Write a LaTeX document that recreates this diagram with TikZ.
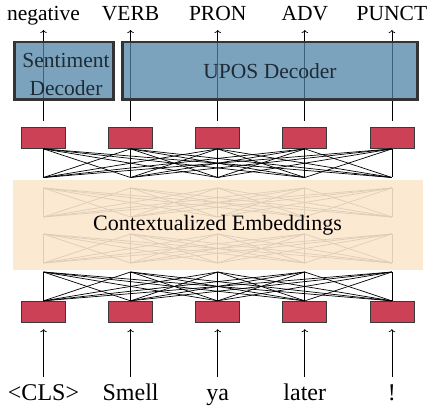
\documentclass[tikz,border=0pt]{standalone}
\usepackage{fontspec}
\setmainfont{Liberation Serif}
\usetikzlibrary{arrows.meta}
\definecolor{redfill}{HTML}{CD4157}
\definecolor{boxline}{HTML}{3A3A3A}
\definecolor{decfill}{HTML}{4F84A8}
\definecolor{decborder}{HTML}{333333}
\definecolor{dectext}{HTML}{1E2B35}
\definecolor{embfill}{HTML}{FAE6CD}
\begin{document}
\begin{tikzpicture}[x=1pt,y=-1pt,
  redbox/.style={draw=boxline, line width=0.8pt, fill=redfill, minimum width=44pt, minimum height=21.5pt, inner sep=0pt},
  conn/.style={black, line width=0.7pt},
  arr/.style={line width=0.7pt, -{To[length=3pt,width=6.5pt]}},
  decbox/.style={draw=decborder, line width=2.7pt, fill=decfill, fill opacity=0.75, draw opacity=1, text opacity=1, text=dectext, inner sep=0pt, minimum height=57.3pt, font=\fontsize{21.5}{28}\selectfont},
  dectxt/.style={text=dectext, inner sep=0pt, font=\fontsize{21.5}{28}\selectfont},
  embbox/.style={draw=none, fill=embfill, fill opacity=0.89, minimum width=410pt, minimum height=90pt, inner sep=0pt},
  toplab/.style={anchor=base, font=\fontsize{21.5}{26}\selectfont, inner sep=0pt},
  botlab/.style={anchor=base, font=\fontsize{24}{29}\selectfont, inner sep=0pt},
  embtxt/.style={anchor=base, font=\fontsize{22}{26}\selectfont, inner sep=0pt},
]
\useasboundingbox (0,0) rectangle (434,409);

\foreach \i/\x in {1/43.5,2/130.6,3/217.7,4/304.8,5/391.9} {
  \node[redbox] (t\i) at (\x,137.75) {};
  \node[redbox] (b\i) at (\x,312) {};
  \coordinate (l1b\i) at (\x,177.5);
  \coordinate (l2t\i) at (\x,188);
  \coordinate (l2b\i) at (\x,217);
  \coordinate (l3t\i) at (\x,234);
  \coordinate (l3b\i) at (\x,263);
  \coordinate (l4t\i) at (\x,272);
  \coordinate (oa\i) at (\x,30);
  \coordinate (wa\i) at (\x,377);
}

\foreach \i/\x/\t in {1/43.5/negative,2/130.6/VERB,3/217.7/PRON,4/304.8/ADV,5/391.9/PUNCT}
  \node[toplab] (o\i) at (\x,21) {\t};
\foreach \i/\x/\t in {1/43.5/{<CLS>},2/130.6/Smell,3/217.7/ya,4/304.8/later,5/391.9/!}
  \node[botlab] (w\i) at (\x,400) {\t};

\foreach \i in {1,...,5} {
  \foreach \j in {1,...,5} {
    \draw[conn] (t\i.south) -- (l1b\j);
    \draw[conn] (l2t\i) -- (l2b\j);
    \draw[conn] (l3t\i) -- (l3b\j);
    \draw[conn] (l4t\i) -- (b\j.north);
  }
}

\node[embbox] (emb) at (218,225) {};
\node[embtxt] (embtext) at (217.5,230) {Contextualized Embeddings};

\foreach \i in {1,...,5} {
  \draw[arr, shorten <=6pt] (t\i.north) -- (oa\i);
  \draw[arr, shorten >=6pt] (wa\i) -- (b\i.south);
}

\node[decbox, minimum width=99pt] (sent) at (64.2,70.7) {};
\node[dectxt, align=center] (senttext) at (66,74) {Sentiment\\Decoder};
\node[decbox, minimum width=295.2pt] (upos) at (270,70.7) {UPOS Decoder};
\end{tikzpicture}
\end{document}
